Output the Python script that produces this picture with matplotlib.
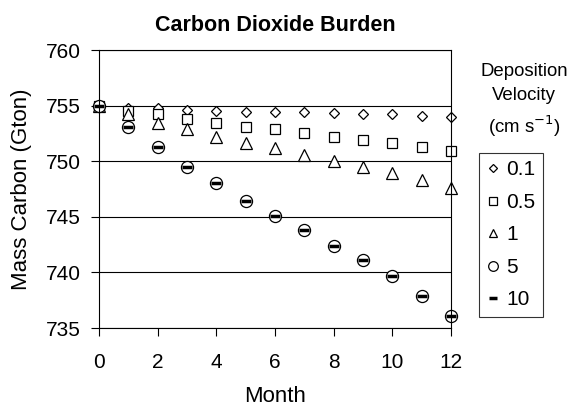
import matplotlib.pyplot as plt

plt.rcParams['font.family'] = ['Liberation Sans', 'DejaVu Sans']

months = [0, 1, 2, 3, 4, 5, 6, 7, 8, 9, 10, 11, 12]
v01 = [755.0, 754.8, 754.75, 754.6, 754.5, 754.45, 754.45, 754.4, 754.3, 754.25, 754.2, 754.1, 754.0]
v05 = [755.0, 754.5, 754.2, 753.8, 753.4, 753.1, 752.9, 752.5, 752.2, 751.9, 751.6, 751.3, 750.9]
v1 = [755.0, 754.25, 753.4, 752.9, 752.2, 751.6, 751.2, 750.6, 750.0, 749.5, 748.9, 748.3, 747.6]
v5 = [755.0, 753.05, 751.3, 749.5, 748.0, 746.4, 745.1, 743.8, 742.4, 741.1, 739.7, 737.9, 736.1]
v10 = [755.0, 753.05, 751.3, 749.5, 748.0, 746.4, 745.1, 743.8, 742.4, 741.1, 739.7, 737.9, 736.1]

fig = plt.figure(figsize=(5.72, 4.08), dpi=100)
ax = fig.add_axes([99/572, 1 - 328/408, 352/572, 278/408])

ax.plot(months, v01, linestyle='none', marker='D', markersize=5.5, markerfacecolor='white',
        markeredgecolor='black', markeredgewidth=0.9, label='0.1', clip_on=False)
ax.plot(months, v05, linestyle='none', marker='s', markersize=7, markerfacecolor='white',
        markeredgecolor='black', markeredgewidth=0.9, label='0.5', clip_on=False)
ax.plot(months, v1, linestyle='none', marker='^', markersize=8, markerfacecolor='white',
        markeredgecolor='black', markeredgewidth=0.9, label='1', clip_on=False)
ax.plot(months, v5, linestyle='none', marker='o', markersize=8.7, markerfacecolor='white',
        markeredgecolor='black', markeredgewidth=0.9, label='5', clip_on=False)
ax.plot(months, v10, linestyle='none', marker='_', markersize=7.5, markeredgecolor='black',
        markeredgewidth=2.5, label='10', clip_on=False)

ax.set_xlim(0, 12)
ax.set_ylim(735, 760)
ax.set_xticks(range(0, 13, 2))
ax.set_yticks(range(735, 761, 5))
ax.tick_params(axis='both', labelsize=15, direction='out', length=6, width=0.8)
ax.tick_params(axis='x', pad=12)
ax.tick_params(axis='y', pad=7)
ax.grid(axis='y', color='black', linewidth=0.8)
ax.set_axisbelow(True)
for s in ax.spines.values():
    s.set_linewidth(0.8)

ax.set_xlabel("Month", fontsize=16, labelpad=10)
ax.set_ylabel("Mass Carbon (Gton)", fontsize=16, labelpad=10)
ax.set_title("Carbon Dioxide Burden", fontsize=15.5, fontweight='bold', pad=14)

fig.text(524/572, 1 - 101/408, "Deposition\nVelocity\n(cm s$^{-1}$)", ha='center', va='center',
         fontsize=13.4, linespacing=1.5)

leg = ax.legend(loc='upper left', bbox_to_anchor=(479/572, 1 - 153/408), bbox_transform=fig.transFigure,
                fontsize=15, frameon=True, fancybox=False, edgecolor='black', borderpad=0.35,
                labelspacing=0.65, handlelength=0.6, handletextpad=0.35, borderaxespad=0)
leg.get_frame().set_linewidth(0.8)
for h in leg.legend_handles:
    h.set_markersize(h.get_markersize() * 0.8)

plt.savefig("out.png", dpi=100)
